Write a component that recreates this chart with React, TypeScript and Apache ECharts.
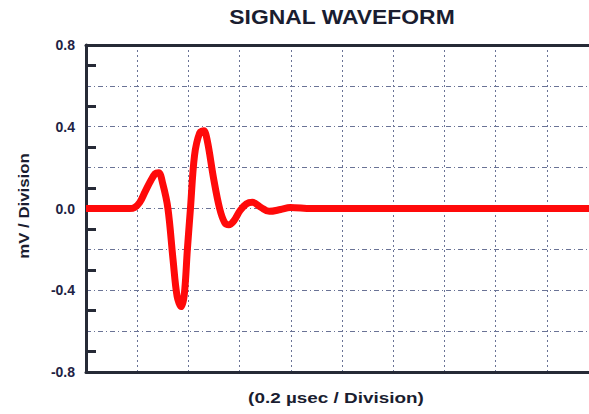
import React, { useEffect, useRef } from "react";
import * as echarts from "echarts";

// time in divisions (0.2 µsec / division)
const timeDiv = [
  0, 0.85, 0.95, 1.05, 1.15, 1.25, 1.35, 1.42, 1.5, 1.6, 1.7, 1.78, 1.86, 1.92, 1.98, 2.04,
  2.12, 2.22, 2.3, 2.37, 2.49, 2.61, 2.71, 2.79, 2.89, 3.01, 3.13, 3.25, 3.42, 3.58, 3.8, 3.99,
  4.4, 10,
];
// signal in mV/division
const signal = [
  0, 0, 0.005, 0.03, 0.08, 0.13, 0.17, 0.175, 0.12, 0.0, -0.25, -0.43, -0.48, -0.42, -0.2, 0.0,
  0.26, 0.37, 0.38, 0.33, 0.15, 0.0, -0.07, -0.08, -0.06, -0.01, 0.022, 0.03, 0.005, -0.014,
  -0.005, 0.005, 0, 0,
];
const yLabelValues = [-0.8, -0.4, 0, 0.4, 0.8];
const titleText = "SIGNAL WAVEFORM";
const yName = "mV / Division";
const xName = "(0.2 µsec / Division)";

export default function App() {
  const ref = useRef<HTMLDivElement>(null);
  useEffect(() => {
    if (!ref.current) return;
    const chart = echarts.init(ref.current, null, { renderer: "svg" });
    const axisColor = "#262a36";
    const gridColor = "#6a7396";
    const font = "'Liberation Sans', Arial, sans-serif";
    const xMax = 503 / 51.2;
    chart.setOption({
      animation: false,
      backgroundColor: "#ffffff",
      grid: { left: 86, top: 45, bottom: 42, right: 0, containLabel: false },
      xAxis: [
        {
          type: "value",
          min: 0,
          max: xMax,
          interval: 1,
          position: "bottom",
          axisLine: { show: true, onZero: false, lineStyle: { color: axisColor, width: 3 } },
          axisTick: { show: false },
          axisLabel: { show: false },
          splitLine: {
            show: true,
            showMaxLine: false,
            lineStyle: { color: gridColor, type: [2, 3], width: 1 },
          },
        },
        {
          type: "value",
          min: 0,
          max: xMax,
          interval: 1,
          position: "top",
          axisLine: { show: true, onZero: false, lineStyle: { color: axisColor, width: 3 } },
          axisTick: { show: false },
          axisLabel: { show: false },
          splitLine: { show: false },
        },
      ],
      yAxis: {
        type: "value",
        min: -0.8,
        max: 0.8,
        interval: 0.2,
        axisLine: { show: true, onZero: false, lineStyle: { color: axisColor, width: 3 } },
        axisTick: { show: false, inside: true },
        minorTick: { show: true, splitNumber: 2, length: 10, lineStyle: { color: axisColor, width: 3 } },
        minorSplitLine: { show: false },
        axisLabel: {
          margin: 11,
          fontFamily: font,
          fontWeight: "bold",
          fontSize: 14,
          color: "#1e2344",
          formatter: (v: number) =>
            yLabelValues.some((l) => Math.abs(l - v) < 1e-6) ? (Math.abs(v) < 1e-6 ? "0.0" : v.toFixed(1)) : "",
        },
        splitLine: { show: true, lineStyle: { color: gridColor, type: [5, 3, 1, 3], width: 1 } },
      },
      series: [
        {
          type: "line",
          data: timeDiv.map((t, i) => [t, signal[i]]),
          smooth: 0.35,
          symbol: "none",
          lineStyle: { color: "#ff0a0a", width: 7 },
          z: 5,
        },
      ],
      graphic: [
        {
          type: "text",
          x: 342,
          y: 17,
          scaleX: 1.09,
          style: {
            text: titleText,
            font: `bold 21px ${font}`,
            fill: "#1a1d30",
            align: "center",
            verticalAlign: "middle",
          },
        },
        {
          type: "text",
          x: 24,
          y: 206,
          rotation: Math.PI / 2,
          scaleX: 1.2,
          style: {
            text: yName,
            font: `bold 14px ${font}`,
            fill: "#1a1d30",
            align: "center",
            verticalAlign: "middle",
          },
        },
        {
          type: "text",
          x: 336,
          y: 398,
          scaleX: 1.35,
          style: {
            text: xName,
            font: `bold 14px ${font}`,
            fill: "#1a1d30",
            align: "center",
            verticalAlign: "middle",
          },
        },
      ],
    });
    return () => chart.dispose();
  }, []);
  return <div ref={ref} style={{ width: 589, height: 414, position: "absolute", left: 0, top: 0 }} />;
}
